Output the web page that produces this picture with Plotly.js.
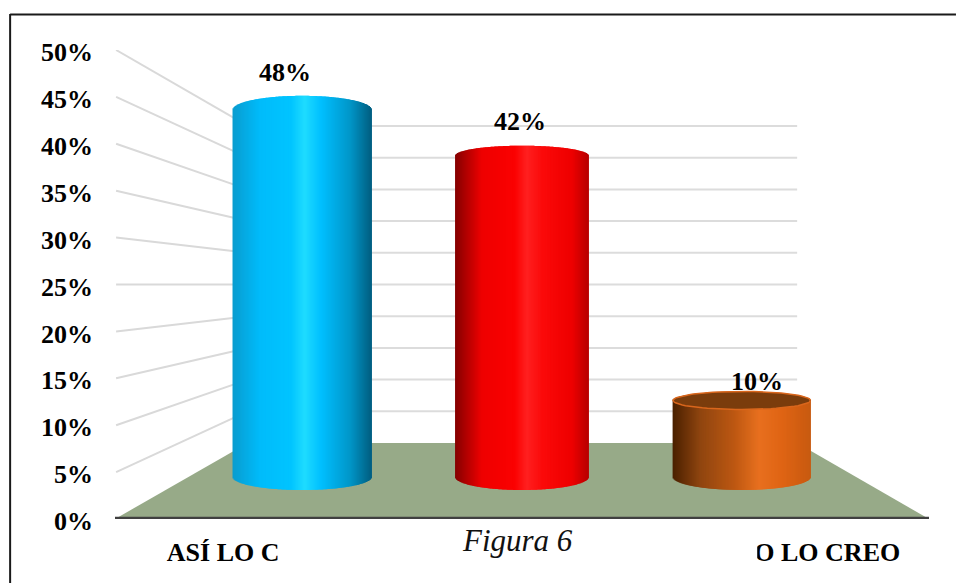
<!DOCTYPE html>
<html>
<head>
<meta charset="utf-8">
<script src="https://cdn.plot.ly/plotly-3.0.1.min.js"></script>
<style>html,body{margin:0;padding:0;background:#fff}#chart{width:957px;height:583px}</style>
</head>
<body>
<div id="chart"></div>
<script>
// ---- data ----
var values = [48, 42, 10];
var axisTicks = [0, 5, 10, 15, 20, 25, 30, 35, 40, 45, 50];
var axisTickText = ['0%','5%','10%','15%','20%','25%','30%','35%','40%','45%','50%'];
var categoryLabels = ['ASÍ LO C', 'O LO CREO'];
var categoryLabelX = [-0.36, 2.389];
var caption = 'Figura 6';
var valueLabelDx = [-0.08, -0.01, 0.07];
var valueLabelDy = [4.0, 4.1, 2.6];
var capDepth = [14, 10, 9];
var cylinderWidth = [0.63, 0.605, 0.625];
var stopsBlue = [[0,'#0a9ccf'],[0.2,'#00bcfb'],[0.42,'#00c4ff'],[0.52,'#1fdcff'],[0.64,'#00bfff'],[0.85,'#0096c8'],[1,'#005f82']];
var stopsRed = [[0,'#850000'],[0.2,'#ee0000'],[0.45,'#fb0202'],[0.54,'#ff2020'],[0.66,'#fb0a0a'],[0.88,'#ee0000'],[1,'#b80000']];
var stopsBrown = [[0,'#4a2000'],[0.2,'#8f4510'],[0.45,'#bd5812'],[0.63,'#e8701f'],[0.8,'#df6414'],[1,'#c85a10']];
var ramps = [stopsBlue, stopsRed, stopsBrown];

// ---- chart geometry helpers (axis units) ----
var PX_Y = 9.38;                 // pixels per y-axis unit
var PLANE_BASE = 4.48, PLANE_SCALE = 0.8155;   // plane through the cylinders
var WALL_BASE = 8.1, WALL_SCALE = 0.676;       // back wall plane
var WALL_L = -0.248, WALL_R = 2.252;
var BOTTOM_B = 13 / PX_Y, STRIPS = 140;
var X0 = -0.852, X1 = 2.852;
function planeY(v){ return PLANE_BASE + v * PLANE_SCALE; }
function wallY(v){ return WALL_BASE + v * WALL_SCALE; }
function hex(c){ return [1,3,5].map(function(i){ return parseInt(c.substr(i,2),16); }); }
function ramp(stops, u){
  for (var i = 1; i < stops.length; i++) {
    if (u <= stops[i][0]) {
      var t = (u - stops[i-1][0]) / (stops[i][0] - stops[i-1][0]);
      var a = hex(stops[i-1][1]), b = hex(stops[i][1]);
      return 'rgb(' + a.map(function(p,k){ return Math.round(p + (b[k]-p)*t); }).join(',') + ')';
    }
  }
  return stops[stops.length-1][1];
}

// ---- cylinder bodies: vertical strips of one bar trace ----
var sx = [], sbase = [], sh = [], sc = [], sw = [];
values.forEach(function(v, c){
  var top = planeY(v), capB = capDepth[c] / PX_Y, half = cylinderWidth[c] / 2;
  for (var i = 0; i < STRIPS; i++) {
    var u = (i + 0.5) / STRIPS, w = 2 * u - 1, arc = Math.sqrt(1 - w * w);
    var lo = PLANE_BASE - BOTTOM_B * arc;
    var hi = top + capB * arc;
    sx.push(c + w * half); sbase.push(lo); sh.push(hi - lo); sc.push(ramp(ramps[c], u));
    sw.push(2 * half / STRIPS * 2);
  }
});
var bodies = {type:'bar', x:sx, y:sh, base:sbase, width:sw, marker:{color:sc, line:{width:0}}, hoverinfo:'skip', showlegend:false};

// ---- open top of the short cylinder ----
var capX = [], capY = [];
for (var a = 0; a <= 72; a++) {
  var th = a / 72 * 2 * Math.PI;
  capX.push(2 + cylinderWidth[2] / 2 * Math.cos(th));
  capY.push(planeY(values[2]) + capDepth[2] / PX_Y * Math.sin(th));
}
var cap = {type:'scatter', mode:'lines', x:capX, y:capY, fill:'toself', fillcolor:'#7a3c0c',
  line:{color:'#d9661c', width:1.5}, hoverinfo:'skip', showlegend:false};

// ---- floor, wall lines, frame ----
var shapes = [];
shapes.push({type:'path', layer:'below', xref:'x', yref:'y',
  path:'M '+X0+' 0 L '+WALL_L+' '+WALL_BASE+' L '+WALL_R+' '+WALL_BASE+' L '+X1+' 0 Z',
  fillcolor:'#97aa88', line:{width:0}});
axisTicks.forEach(function(t){
  if (t > 0) {
    shapes.push({type:'line', layer:'below', x0:X0+0.005, x1:WALL_L, y0:t, y1:wallY(t),
      xref:'x', yref:'y', line:{color:'#d9d9d9', width:2}});
    shapes.push({type:'line', layer:'below', x0:WALL_L, x1:WALL_R, y0:wallY(t), y1:wallY(t),
      xref:'x', yref:'y', line:{color:'#dcdcdc', width:2}});
  }
});
// axis shadow under the base line, the white box carrying the caption, then the base line
shapes.push({type:'line', layer:'above', xref:'x', yref:'y', x0:X0, x1:X1, y0:-0.19, y1:-0.19, line:{color:'#b5b5b5', width:1.5}});
shapes.push({type:'rect', layer:'above', xref:'paper', yref:'paper',
  x0:(278-115)/815, x1:(758-115)/815, y0:-58/469, y1:-1.6/469, fillcolor:'#ffffff', line:{width:0}});
shapes.push({type:'line', layer:'above', xref:'x', yref:'y', x0:X0, x1:X1, y0:0.05, y1:0.05, line:{color:'#404040', width:3.5}});
// frame: top and left edges
shapes.push({type:'line', layer:'above', xref:'paper', yref:'paper',
  x0:(10-115)/815, x1:(957-115)/815, y0:(519-14.5)/469, y1:(519-14.5)/469, line:{color:'#1a1a1a', width:2}});
shapes.push({type:'line', layer:'above', xref:'paper', yref:'paper',
  x0:(10-115)/815, x1:(10-115)/815, y0:(519-14)/469, y1:-64/469, line:{color:'#1a1a1a', width:2}});

var serif = 'Liberation Serif, Times New Roman, serif';
var annotations = values.map(function(v, c){
  return {x:c + valueLabelDx[c], y:planeY(v) + capDepth[c]/PX_Y + valueLabelDy[c] - 1.5, text:'<b>' + v + '%</b>', showarrow:false,
    xanchor:'center', yanchor:'middle', font:{family:serif, size:26, color:'#000'}};
});
annotations.push({x:(518-115)/815, y:(519-540)/469, xref:'paper', yref:'paper', text:caption, showarrow:false,
  xanchor:'center', yanchor:'middle', font:{family:serif, size:31, color:'#111', style:'italic'}});

var layout = {
  width:957, height:583,
  margin:{l:115, r:28, t:50, b:64, pad:0},
  paper_bgcolor:'#fff', plot_bgcolor:'rgba(0,0,0,0)',
  showlegend:false, barmode:'overlay',
  xaxis:{range:[X0, X1], showgrid:false, zeroline:false, showline:false,
    tickvals:categoryLabelX, ticktext:categoryLabels, ticks:'', ticklabelstandoff:15, fixedrange:true,
    tickangle:0, tickfont:{family:serif, size:26, color:'#000', weight:700}},
  yaxis:{range:[0, 50], tickmode:'array', tickvals:axisTicks, ticktext:axisTickText, showgrid:false, zeroline:false, showline:false, ticks:'',
    ticklabelstandoff:21, ticklabelshift:2, fixedrange:true, tickfont:{family:serif, size:26, color:'#000', weight:700}},
  shapes:shapes, annotations:annotations
};
Plotly.newPlot('chart', [bodies, cap], layout, {displayModeBar:false, staticPlot:true});
</script>
</body>
</html>
